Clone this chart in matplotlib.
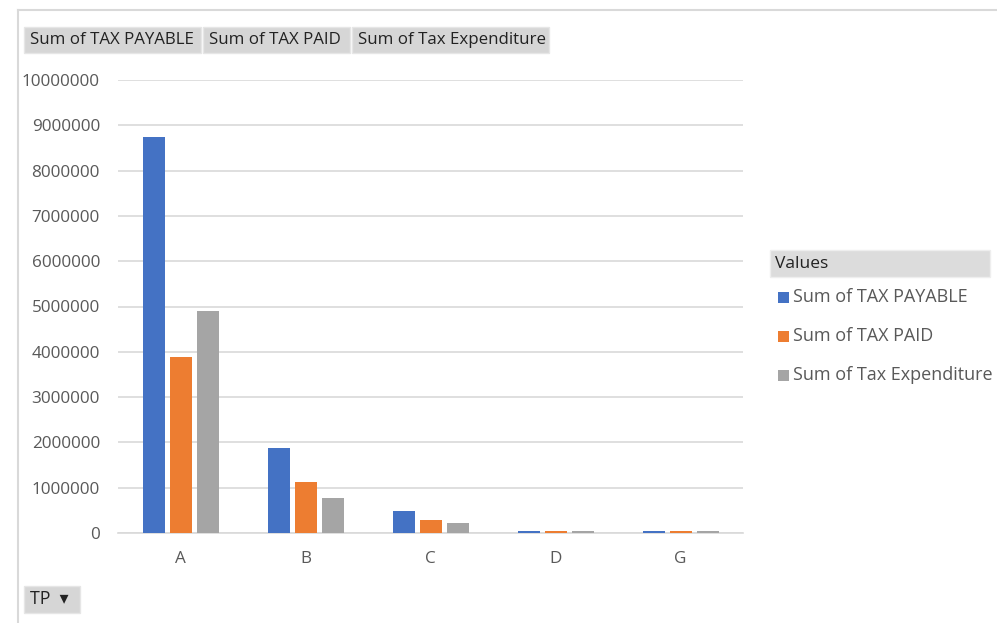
import numpy as np
import matplotlib.pyplot as plt
from matplotlib.patches import Rectangle

# datos
categorias = ["A", "B", "C", "D", "G"]
tax_payable = [8750000, 1880000, 480000, 45000, 45000]
tax_paid = [3880000, 1120000, 290000, 40000, 40000]
tax_expenditure = [4900000, 780000, 210000, 35000, 35000]
series = ["Sum of TAX PAYABLE", "Sum of TAX PAID", "Sum of Tax Expenditure"]
colores = ["#4472C4", "#ED7D31", "#A5A5A5"]
yticks = np.arange(0, 10000001, 1000000)

plt.rcParams['font.family'] = ['Open Sans', 'DejaVu Sans']
texto = "#595959"

fig = plt.figure(figsize=(9.97, 6.23), dpi=100)
ax = fig.add_axes([118 / 997, 1 - 533 / 623, 625 / 997, 453 / 623])

x = np.arange(len(categorias))
ancho = 0.176
paso = 0.216
valores = [tax_payable, tax_paid, tax_expenditure]
for i, (vals, nombre, c) in enumerate(zip(valores, series, colores)):
    ax.bar(x + (i - 1) * paso, vals, width=ancho, color=c, label=nombre, zorder=3)

ax.set_xlim(-0.5, len(categorias) - 0.5)
ax.set_ylim(0, 10000000)
ax.set_yticks(yticks)
ax.set_yticklabels([str(v) for v in yticks])
ax.set_xticks(x)
ax.set_xticklabels(categorias)
ax.tick_params(axis='both', length=0, labelsize=12.3, colors=texto)
ax.tick_params(axis='y', pad=13)
ax.tick_params(axis='x', pad=13)
ax.grid(axis='y', color="#D9D9D9", linewidth=1.2, zorder=0)
for s in ["top", "right", "left"]:
    ax.spines[s].set_visible(False)
ax.spines["bottom"].set_color("#D9D9D9")
ax.spines["bottom"].set_linewidth(1.2)

# marco exterior
fig.add_artist(plt.Line2D([18 / 997, 1], [1 - 10 / 623, 1 - 10 / 623], color="#D9D9D9", lw=1.5))
fig.add_artist(plt.Line2D([18 / 997, 18 / 997], [0, 1 - 10 / 623], color="#D9D9D9", lw=1.5))

def boton(x0, x1, y0, y1, etiqueta, size=12.2):
    fig.add_artist(Rectangle((x0 / 997, 1 - y1 / 623), (x1 - x0) / 997, (y1 - y0) / 623,
                             transform=fig.transFigure, facecolor="#D6D6D6",
                             edgecolor="#E6E6E6", lw=1))
    fig.text((x0 + 6) / 997, 1 - (y0 + y1) / 2 / 623, etiqueta, fontsize=size,
             color="#222222", va='center', ha='left')

boton(24, 201, 27, 53, "Sum of TAX PAYABLE")
boton(203, 350, 27, 53, "Sum of TAX PAID")
boton(352, 549, 27, 53, "Sum of Tax Expenditure")
boton(24, 80, 586, 613, "TP  \u25BE", 12.8)

# leyenda
fig.add_artist(Rectangle((770 / 997, 1 - 277 / 623), 220 / 997, 27 / 623,
                         transform=fig.transFigure, facecolor="#DCDCDC", edgecolor="#EEEEEE", lw=1))
fig.text(775 / 997, 1 - 264 / 623, "Values", fontsize=12.5, color="#222222", va='center')
for i, (nombre, c) in enumerate(zip(series, colores)):
    yc = [297, 336, 375][i]
    fig.add_artist(Rectangle((778 / 997, 1 - (yc + 6) / 623), 11 / 997, 11 / 623,
                             transform=fig.transFigure, facecolor=c, edgecolor='none'))
    fig.text(793 / 997, 1 - yc / 623, nombre, fontsize=13, color=texto, va='center')

fig.savefig("out.png", dpi=100)
